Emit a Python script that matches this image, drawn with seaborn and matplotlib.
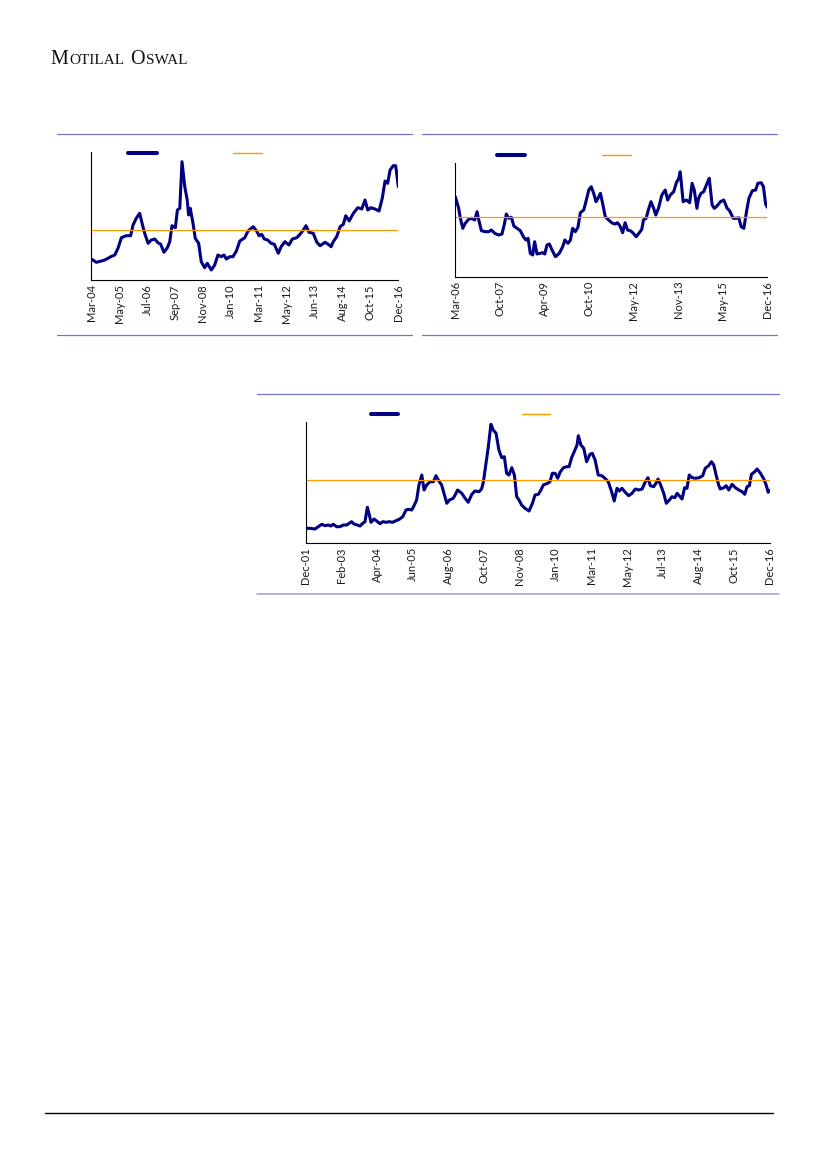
import numpy as np
import pandas as pd
import matplotlib
matplotlib.use("Agg")
import matplotlib.pyplot as plt
import seaborn as sns
from matplotlib.lines import Line2D

# ---------------- DATA (months since first label, relative level) ----------------
c1_months = [0, 2.5, 5.0, 6.7, 8.3, 9.7, 11.7, 13.3, 15.0, 17.4, 19.6, 20.8, 22.4, 24.1, 25.3,
             26.6, 28.3, 29.9, 31.6, 33.2, 34.6, 36.2, 37.9, 39.1, 40.2, 41.9, 42.9, 44.1, 45.2,
             46.6, 47.8, 48.5, 49.3, 50.7, 51.8, 53.5, 54.8, 56.5, 57.8, 59.8, 61.5, 63.1, 64.8,
             66.1, 67.3, 69.0, 70.6, 72.3, 74.0, 76.5, 78.1, 80.7, 82.4, 83.6, 84.9, 86.2, 87.9,
             89.6, 91.2, 93.2, 94.6, 96.5, 98.5, 100.2, 102.4, 104.0, 105.7, 107.0, 108.5, 110.6,
             112.4, 114.0, 116.5, 118.1, 119.5, 120.6, 122.3, 124.0, 125.6, 126.8, 128.5, 130.6,
             132.8, 134.8, 136.4, 137.8, 139.4, 141.4, 143.4, 145.0, 146.4, 147.7, 148.9, 150.5,
             151.7, 153.0]
c1_values = [21, 17.7, 19, 20, 21.7, 23.3, 25, 31.7, 42.3, 44.3, 44.3, 55, 61.7, 66.7, 56.7,
             46.7, 36.7, 40, 41, 37.3, 35.7, 27.7, 32.3, 38.3, 54.3, 52.3, 70, 71.7, 118.3,
             93.3, 80, 65, 71.7, 56.7, 41.7, 36.7, 18.3, 12.3, 16.7, 10, 15, 25, 23.3,
             25, 21, 23.3, 23.3, 29, 39, 42.3, 49, 53.3, 49, 44.3, 45.7, 41, 40,
             36.7, 35.7, 26.7, 33.3, 38.3, 35, 41, 42.3, 45.7, 50, 54.3, 47.7, 46.7,
             37.7, 34.3, 37.7, 35.7, 33.3, 38.3, 43.3, 53.3, 55.7, 64.3, 59, 66.7,
             72.3, 71, 80, 70, 72.3, 71, 69, 81.7, 99, 96.7, 110, 114.3,
             114.3, 93.3]
c1_average = 50
c1_span = 153
c1_ticklabels = ["Mar-04", "May-05", "Jul-06", "Sep-07", "Nov-08", "Jan-10", "Mar-11",
                 "May-12", "Jun-13", "Aug-14", "Oct-15", "Dec-16"]

c2_months = [0, 1.4, 2.1, 3.1, 4.1, 5.5, 6.9, 8.0, 9.0, 9.7, 10.8, 12.4, 13.8, 14.9, 16.3,
             17.9, 19.3, 20.3, 21.1, 22.1, 23.2, 24.2, 25.5, 26.9, 28.3, 29.2, 30.1, 31.0, 32.0,
             32.8, 33.8, 35.1, 36.1, 37.0, 37.9, 38.9, 40.0, 41.4, 43.0, 44.4, 45.3, 46.6, 47.6,
             48.5, 49.6, 50.7, 51.7, 53.1, 54.0, 55.2, 56.2, 57.2, 58.2, 59.0, 60.0, 60.9, 62.0,
             63.4, 64.8, 66.1, 67.0, 68.1, 69.2, 70.2, 71.2, 72.3, 73.4, 74.8, 76.1, 77.1, 77.8,
             78.9, 79.9, 80.9, 82.0, 82.9, 84.0, 85.4, 86.8, 87.8, 88.9, 90.3, 91.4, 92.4, 93.0,
             94.2, 95.5, 96.9, 97.9, 98.8, 99.9, 100.6, 101.6, 102.7, 104.1, 105.0, 106.2, 107.1,
             108.2, 109.6, 111.0, 112.4, 113.4, 114.9, 116.2, 117.2, 118.2, 119.3, 120.4, 121.4,
             122.8, 124.2, 125.1, 126.5, 127.4, 128.3, 129.0]
c2_values = [80, 68.4, 58.4, 48.4, 53.4, 57.4, 58.4, 56.7, 65, 56.7, 46, 45, 45, 46.7, 43.4,
             41.7, 42.7, 52.7, 62.7, 58.4, 59.4, 50.7, 48.4, 46, 39.4, 36.7, 38.4, 23.4, 21.7,
             35, 22.7, 23.4, 24, 22.7, 31.7, 32.7, 26.7, 20, 23.4, 30, 36.7, 33.4, 36.7,
             48.4, 45, 49.4, 64, 66.7, 75, 86.7, 90, 83.4, 75, 78.4, 83.4, 73.4, 60,
             56.7, 53.7, 52.7, 54, 50.7, 44, 54, 46.7, 46, 44, 40, 44, 47.4, 56.7,
             58.4, 67.4, 75, 68.4, 61.7, 68.4, 81.7, 86.7, 76.7, 81.7, 85, 94, 98.4, 105,
             75, 76.7, 74, 93.4, 86.7, 68.4, 78.4, 83.4, 85, 93.4, 98.4, 71.7, 68.4,
             70.7, 75, 76.7, 68.4, 66, 58.4, 58.4, 59, 50, 48.4, 65, 78.4,
             86, 86.7, 93.4, 94, 90, 72.7, 69.4]
c2_average = 59.4
c2_span = 129
c2_ticklabels = ["Mar-06", "Oct-07", "Apr-09", "Oct-10", "May-12", "Nov-13", "May-15", "Dec-16"]

c3_months = [0, 1.7, 3.6, 4.9, 6.2, 7.5, 8.8, 9.7, 10.7, 12.0, 13.3, 14.6, 15.9, 16.9, 17.8,
             18.7, 20.0, 21.1, 22.1, 23.0, 23.9, 24.7, 25.3, 26.5, 27.5, 28.8, 29.9, 31.1, 32.4,
             33.7, 35.0, 36.3, 37.6, 38.9, 39.8, 41.1, 42.0, 43.0, 43.9, 45.0, 45.9, 46.9, 48.2,
             49.5, 50.5, 51.4, 52.7, 53.6, 54.7, 55.7, 57.2, 57.9, 58.9, 60.5, 61.8, 63.0, 64.4,
             65.6, 67.2, 68.2, 68.9, 69.8, 70.8, 71.8, 72.7, 73.8, 74.9, 76.0, 77.0, 77.9, 78.8,
             79.9, 80.9, 81.8, 82.7, 83.7, 85.0, 86.6, 87.9, 88.9, 90.2, 91.2, 92.1, 93.8, 94.7,
             95.6, 96.7, 97.7, 98.6, 99.9, 101.2, 102.1, 103.1, 104.4, 105.2, 105.7, 106.7, 107.8,
             108.9, 110.2, 111.1, 112.2, 113.4, 114.8, 116.0, 117.3, 118.6, 119.6, 120.7, 121.6,
             122.6, 123.9, 125.2, 126.5, 127.8, 129.1, 130.4, 131.7, 132.7, 133.6, 134.9, 135.8,
             136.6, 137.5, 138.8, 139.8, 141.0, 142.0, 143.1, 144.0, 144.8, 145.9, 146.9, 147.8,
             148.7, 149.8, 151.0, 152.6, 153.9, 154.9, 156.2, 157.3, 158.2, 159.1, 160.1, 160.7,
             162.1, 163.0, 164.0, 165.3, 166.6, 167.9, 169.2, 170.2, 171.1, 172.0, 172.8, 174.1,
             175.0, 176.3, 177.6, 178.5, 179.3, 180.0]
c3_values = [14.7, 14.7, 14, 16.3, 18.7, 17.3, 18, 17, 18.7, 16.3, 16.3, 18, 18, 19.7, 21.3,
             19, 18, 17, 19.7, 21.3, 35.7, 28, 20.7, 24, 22, 19.3, 21.3, 20.7, 21.3,
             20.7, 22.3, 23.7, 26.3, 33, 33.7, 33, 37.3, 43, 58, 68, 53, 58, 61.3,
             61.3, 67.3, 63, 58, 49.7, 39.7, 43, 44.7, 48, 53, 49.7, 44.7, 40.7, 48.7,
             52, 51.3, 54, 61.3, 78, 96.3, 118.7, 113, 109.7, 93, 85.3, 86.3, 69.7, 68,
             75.3, 68, 46.3, 43, 38, 34.7, 32, 39.7, 48, 48.7, 53, 58, 59.7, 61.3,
             69.7, 69.7, 64.7, 70.7, 75.3, 76.3, 76.3, 85.3, 93, 98, 107.3, 98, 94.7,
             81.3, 88.7, 89.7, 83, 68, 67.3, 64.7, 61.3, 51.3, 42, 54.7, 52,
             54.7, 50.7, 47.3, 49.7, 54, 53, 54, 61.3, 65.3, 57.3, 56.3, 59.7,
             64, 58.7, 49.7, 39.7, 43, 46.3, 45.3, 49.7, 47.3, 44, 55.3, 54.7,
             68, 65.3, 64.7, 65.3, 67.3, 74.7, 77.3, 81.3, 78, 68, 58, 54,
             55.3, 57.3, 53, 58.7, 55.3, 53, 51.3, 48.7, 56.3, 57.3, 68.7, 71.3,
             74, 69.7, 64, 58, 50.7, 52.7]
c3_average = 62.7
c3_span = 180
c3_ticklabels = ["Dec-01", "Feb-03", "Apr-04", "Jun-05", "Aug-06", "Oct-07", "Nov-08",
                 "Jan-10", "Mar-11", "May-12", "Jul-13", "Aug-14", "Oct-15", "Dec-16"]

# ---------------- STYLE ----------------
sns.set_theme(style="white")
plt.rcParams["font.family"] = ["Lato", "DejaVu Sans"]

NAVY = "#000080"
ORANGE = "#FF9900"
RULE = "#7474C8"
W, H = 827, 1169
fig = plt.figure(figsize=(W / 100, H / 100), dpi=100)


def add_ax(left, top, right, bottom):
    return fig.add_axes([left / W, 1 - bottom / H, (right - left) / W, (bottom - top) / H])


def hrule(x0, x1, y, color=RULE, lw=0.9):
    fig.add_artist(Line2D([x0 / W, x1 / W], [1 - y / H, 1 - y / H],
                          transform=fig.transFigure, color=color, lw=lw))


def draw_chart(ax, months, values, avg, span, ticklabels, ytop, leg_x, leg_y, handle_px, gap_px):
    df = pd.DataFrame({"month": months, "value": values})
    sns.lineplot(data=df, x="month", y="value", ax=ax, color=NAVY, linewidth=2.2,
                 sort=False, estimator=None)
    ax.axhline(avg, color=ORANGE, linewidth=0.9)
    ax.set_xlim(0, span)
    ax.set_ylim(0, ytop)
    ax.set_xticks(np.linspace(0, span, len(ticklabels)))
    ax.set_xticklabels(ticklabels, rotation=90, fontsize=8, color="#1a1a1a")
    ax.set_yticks([])
    ax.set_xlabel("")
    ax.set_ylabel("")
    ax.tick_params(axis="x", length=0, pad=3)
    sns.despine(ax=ax)
    for s in ("left", "bottom"):
        ax.spines[s].set_color("black")
        ax.spines[s].set_linewidth(0.8)
    ax.patch.set_alpha(0)
    fs = 8
    em = fs * 100 / 72
    handles = [Line2D([], [], color=NAVY, lw=2.9), Line2D([], [], color=ORANGE, lw=1.0)]
    ax.legend(handles, ["", ""], ncol=2, frameon=False, fontsize=fs,
              handlelength=handle_px / em, handletextpad=0, columnspacing=gap_px / em,
              borderpad=0, borderaxespad=0, loc="center left",
              bbox_to_anchor=(leg_x / W, 1 - leg_y / H), bbox_transform=fig.transFigure)


ax1 = add_ax(91.3, 152, 398.3, 280)
draw_chart(ax1, c1_months, c1_values, c1_average, c1_span, c1_ticklabels, 128,
           128, 153.3, 29, 75.7)

ax2 = add_ax(455.3, 162.7, 767.3, 276.7)
draw_chart(ax2, c2_months, c2_values, c2_average, c2_span, c2_ticklabels, 114,
           496.7, 155, 28.3, 77.3)

ax3 = add_ax(305.7, 422.3, 770, 543)
draw_chart(ax3, c3_months, c3_values, c3_average, c3_span, c3_ticklabels, 120.7,
           370.7, 414.7, 27.6, 124)

# panel rules
hrule(57, 411.7, 134.3)
hrule(57, 411.7, 335)
hrule(422.3, 776.7, 134.3)
hrule(422.3, 776.7, 335)
hrule(257.3, 779, 394.3)
hrule(257.3, 779, 594, color="#A49CD2", lw=1.1)
# footer rule
hrule(45, 773, 1113, color="black", lw=1.0)

# header in small caps
renderer = fig.canvas.get_renderer()
x = 50.5 / W
y = 1 - 64.5 / H
pieces = [("M", 14.5), ("OTILAL", 11), (" ", 11), ("O", 14.5), ("SWAL", 11)]
for txt, size in pieces:
    t = fig.text(x, y, txt, fontsize=size, family="Liberation Serif", color="#111111",
                 va="baseline", ha="left")
    bb = t.get_window_extent(renderer)
    x = bb.x1 / W + (0.6 / W if txt.strip() else 0)
    if txt == " ":
        x = x + 2.0 / W

fig.savefig("out.png", dpi=100)
